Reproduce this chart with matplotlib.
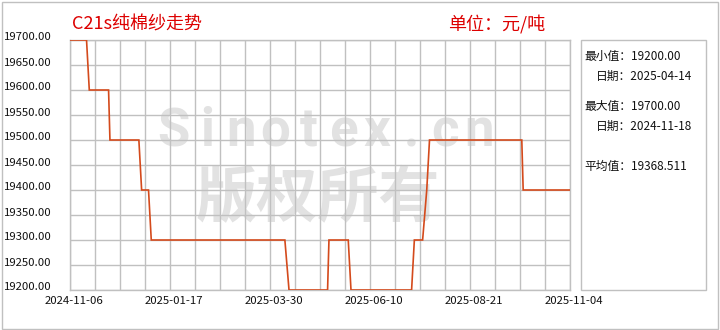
import matplotlib
matplotlib.use("Agg")
import matplotlib.pyplot as plt
import matplotlib.dates as mdates
from matplotlib.patches import Rectangle
from matplotlib.transforms import ScaledTranslation
import numpy as np
import pandas as pd

plt.rcParams['font.family'] = ['Noto Sans CJK SC', 'DejaVu Sans']

# ---- data ----
title = "C21s纯棉纱走势"
unit = "单位：元/吨"
dates = ["2024-11-06", "2024-11-18", "2024-11-20", "2024-12-04", "2024-12-05",
         "2024-12-26", "2024-12-28", "2025-01-02", "2025-01-04", "2025-04-11",
         "2025-04-14", "2025-05-12", "2025-05-13", "2025-05-27", "2025-05-29",
         "2025-07-12", "2025-07-14", "2025-07-20", "2025-07-23", "2025-07-25",
         "2025-09-30", "2025-10-01", "2025-11-04"]
values = [19700, 19700, 19600, 19600, 19500,
          19500, 19400, 19400, 19300, 19300,
          19200, 19200, 19300, 19300, 19200,
          19200, 19300, 19300, 19400, 19500,
          19500, 19400, 19400]
x_labels = ["2024-11-06", "2025-01-17", "2025-03-30", "2025-06-10", "2025-08-21", "2025-11-04"]
y_ticks = [19200, 19250, 19300, 19350, 19400, 19450, 19500, 19550, 19600, 19650, 19700]
stat_names = ["最小值：", "日期：", "最大值：", "日期：", "平均值："]
stat_values = ["19200.00", "2025-04-14", "19700.00", "2024-11-18", "19368.511"]
watermark1 = "Sinotex.cn"
watermark2 = "版权所有"

GRID = "#c0c0c0"
LINE = "#d44a1c"
RED = "#dd0000"
WM = "#e2e2e2"

W, H = 720, 330
fig = plt.figure(figsize=(7.2, 3.3), dpi=100)
fig.patch.set_facecolor("white")

def fx(px):
    return px / W

def fy(py):
    return 1 - py / H

# outer border
fig.add_artist(Rectangle((fx(1.5), fy(328.5)), fx(716), 327 / H, transform=fig.transFigure,
                         fill=False, edgecolor=GRID, lw=1))

ax = fig.add_axes([fx(70), fy(290), fx(500), 250 / H])
xd = mdates.date2num(pd.to_datetime(dates))
xl = mdates.date2num(pd.to_datetime(x_labels))
ax.plot(xd, values, color=LINE, lw=1.2, zorder=3, solid_joinstyle="miter")

ax.set_xlim(xl[0], xl[-1])
ax.set_ylim(y_ticks[0], y_ticks[-1])

nx = 20
xt = np.linspace(xl[0], xl[-1], nx + 1)
lbls = []
step = nx // (len(x_labels) - 1)
for i in range(nx + 1):
    lbls.append(x_labels[i // step] if i % step == 0 else "")
ax.set_xticks(xt)
ax.set_xticklabels(lbls)
ax.set_yticks(y_ticks)
ax.set_yticklabels([f"{v:.2f}" for v in y_ticks])
ax.tick_params(axis="both", length=0, labelsize=8.2, colors="#111111")
ax.tick_params(axis="x", pad=4)
ax.tick_params(axis="y", pad=13)
ax.grid(True, color=GRID, lw=1)
ax.set_axisbelow(True)
for s in ax.spines.values():
    s.set_color(GRID)
    s.set_linewidth(1)

for lab in ax.get_xticklabels():
    lab.set_transform(lab.get_transform() + ScaledTranslation(4 / 100, 0, fig.dpi_scale_trans))
for lab in ax.get_yticklabels():
    lab.set_transform(lab.get_transform() + ScaledTranslation(0, 3.5 / 100, fig.dpi_scale_trans))

# watermark (evenly spaced letters)
n = len(watermark1)
for i, ch in enumerate(watermark1):
    ax.text(0.512 + (i - (n - 1) / 2) * 0.068, 0.632, ch, transform=ax.transAxes,
            ha="center", va="center", family="Roboto", fontweight="bold",
            fontsize=38, color=WM, zorder=0.1)
ax.text(0.496, 0.364, watermark2, transform=ax.transAxes, ha="center", va="center",
        family="Noto Sans CJK SC", fontweight="bold", fontsize=44, color=WM, zorder=0.1)

# titles
fig.text(fx(72), fy(25), title, color=RED, fontsize=13, ha="left", va="center")
fig.text(fx(448), fy(24), unit, color=RED, fontsize=13, ha="left", va="center")

# info box
fig.add_artist(Rectangle((fx(580.5), fy(290)), fx(125), 250 / H, transform=fig.transFigure,
                         fill=False, edgecolor=GRID, lw=1))
rows_y = [56, 76, 106, 126, 166]
for name, val, yy in zip(stat_names, stat_values, rows_y):
    xx = 596 if name == "日期：" else 584
    fig.text(fx(xx), fy(yy), name + val, fontsize=8.5, color="#111111", ha="left", va="center")

fig.savefig("out.png", dpi=100, facecolor="white")
